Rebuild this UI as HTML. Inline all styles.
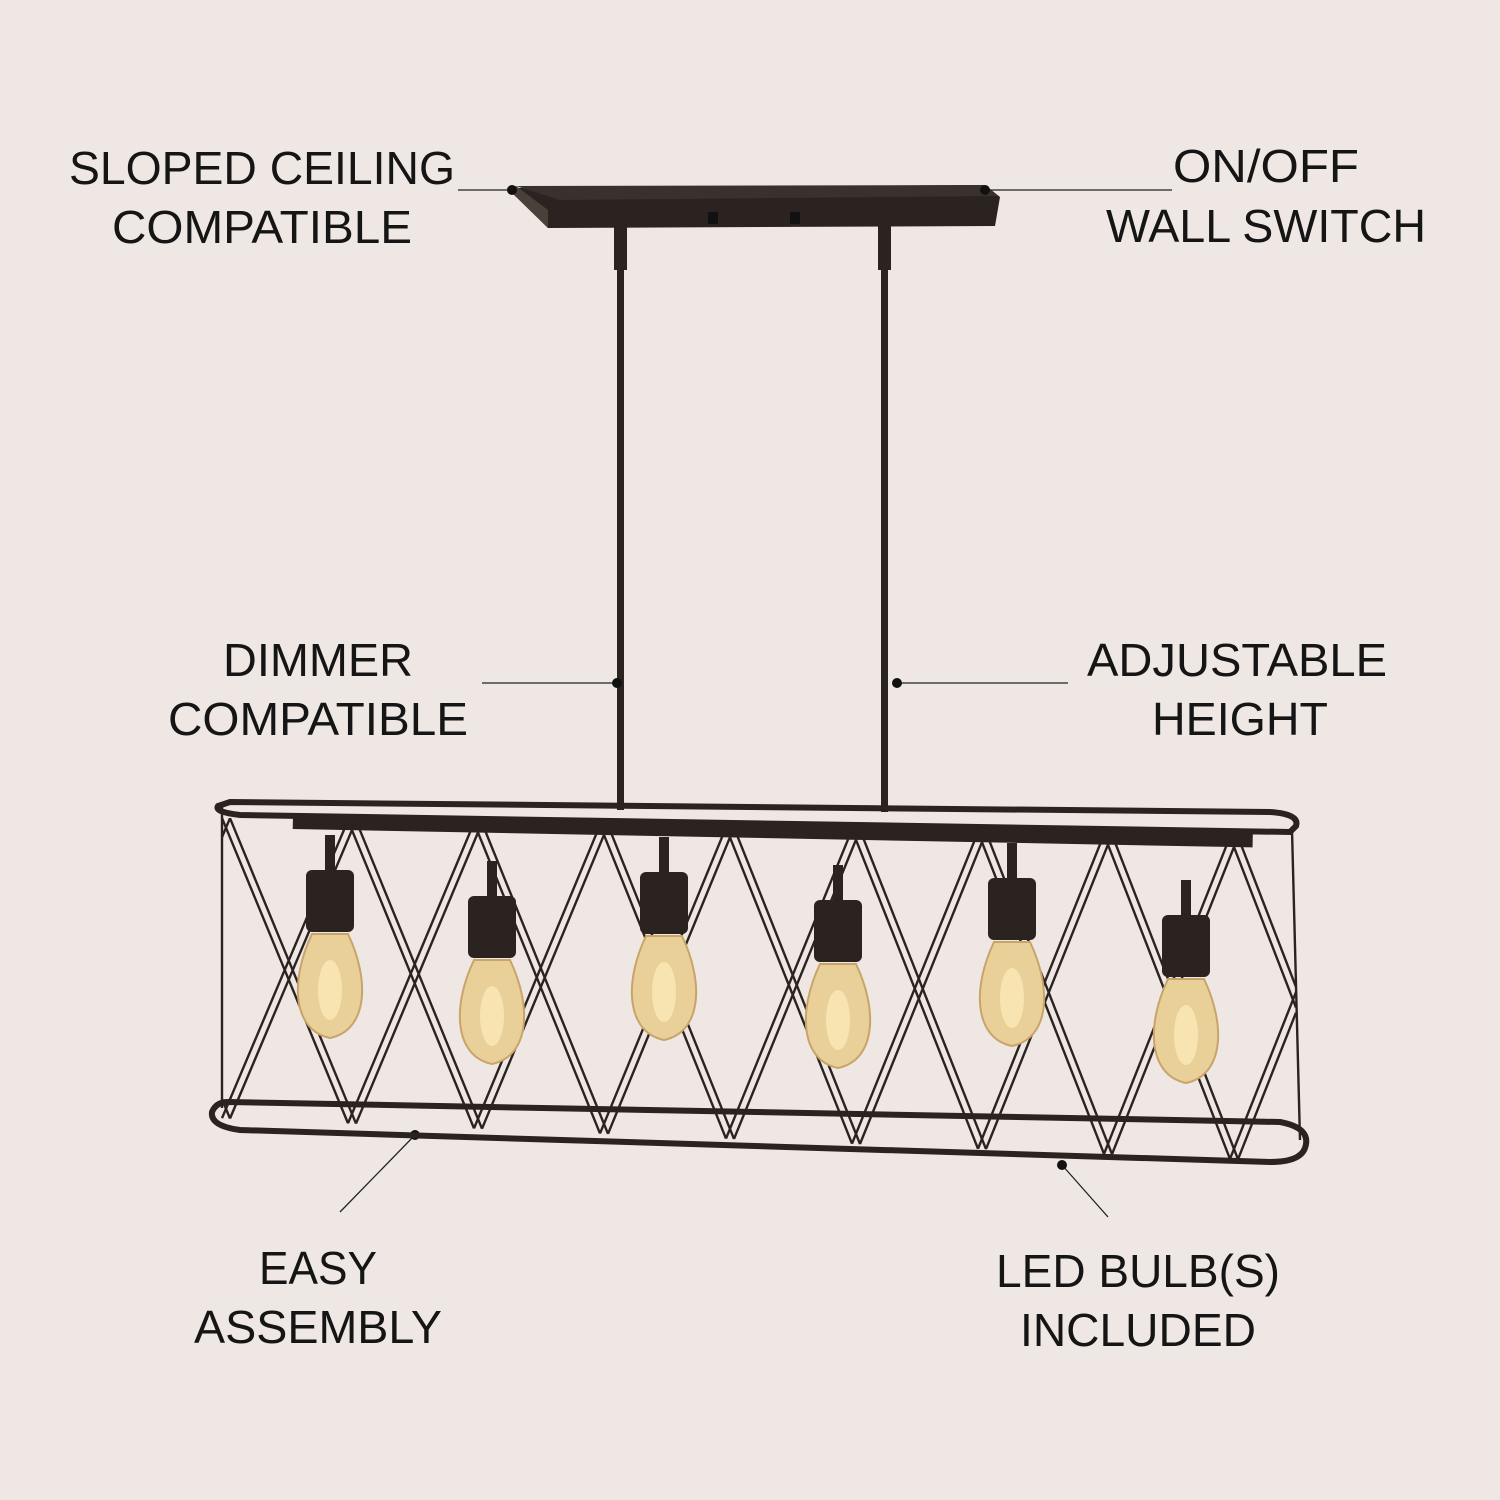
<!DOCTYPE html>
<html><head><meta charset="utf-8"><style>
html,body{margin:0;padding:0;background:#efe7e3}
svg{display:block}
text{font-family:"Liberation Sans",sans-serif;font-size:46px;fill:#151515;text-anchor:middle}
</style></head><body>
<svg id="s" width="1500" height="1500" viewBox="0 0 1500 1500" xmlns="http://www.w3.org/2000/svg">
<rect width="1500" height="1500" fill="#efe7e3"/>
<g lengthAdjust="spacingAndGlyphs">
<text x="262" y="184" textLength="386" lengthAdjust="spacingAndGlyphs">SLOPED CEILING</text>
<text x="262" y="243" textLength="300" lengthAdjust="spacingAndGlyphs">COMPATIBLE</text>
<text x="1266" y="182" textLength="186" lengthAdjust="spacingAndGlyphs">ON/OFF</text>
<text x="1266" y="242" textLength="320" lengthAdjust="spacingAndGlyphs">WALL SWITCH</text>
<text x="318" y="676" textLength="190" lengthAdjust="spacingAndGlyphs">DIMMER</text>
<text x="318" y="735" textLength="300" lengthAdjust="spacingAndGlyphs">COMPATIBLE</text>
<text x="1237" y="676" textLength="300" lengthAdjust="spacingAndGlyphs">ADJUSTABLE</text>
<text x="1240" y="735" textLength="176" lengthAdjust="spacingAndGlyphs">HEIGHT</text>
<text x="318" y="1284" textLength="118" lengthAdjust="spacingAndGlyphs">EASY</text>
<text x="318" y="1343" textLength="248" lengthAdjust="spacingAndGlyphs">ASSEMBLY</text>
<text x="1138" y="1287" textLength="284" lengthAdjust="spacingAndGlyphs">LED BULB(S)</text>
<text x="1138" y="1346" textLength="236" lengthAdjust="spacingAndGlyphs">INCLUDED</text>
</g>
<g stroke="#222" stroke-width="1.3" fill="none">
<line x1="458" y1="190" x2="512" y2="190"/>
<line x1="985" y1="190" x2="1172" y2="190"/>
<line x1="482" y1="683" x2="617" y2="683"/>
<line x1="897" y1="683" x2="1068" y2="683"/>
<line x1="415" y1="1135" x2="340" y2="1212"/>
<line x1="1062" y1="1165" x2="1108" y2="1217"/>
</g>
<polygon points="507,188 985,185 1000,197 995,226 548,228" fill="#2a2320"/>
<polygon points="507,188 548,228 548,210 516,186" fill="#4a403a"/>
<polygon points="516,186 985,185 998,196 560,200" fill="#3a312c"/>
<rect x="708" y="212" width="10" height="12" fill="#111"/>
<rect x="790" y="212" width="10" height="12" fill="#111"/>
<rect x="617" y="210" width="7" height="600" fill="#2a2320"/>
<rect x="614" y="225" width="13" height="45" fill="#2a2320"/>
<rect x="881" y="210" width="7" height="602" fill="#2a2320"/>
<rect x="878" y="225" width="13" height="45" fill="#2a2320"/>
<g fill="#111"><circle cx="512" cy="190" r="5"/><circle cx="985" cy="190" r="5"/><circle cx="617" cy="683" r="5"/><circle cx="897" cy="683" r="5"/><circle cx="415" cy="1135" r="5"/><circle cx="1062" cy="1165" r="5"/></g>
<g fill="none" stroke="#2a2320" stroke-width="6">
<path d="M230,802 L1270,812 Q1300,814 1296,826 L1290,832 L240,815 Q214,812 218,806 Z"/>
<path d="M228,1102 L1280,1122 Q1312,1128 1305,1148 Q1300,1162 1270,1162 L240,1130 Q210,1126 212,1112 Q216,1102 228,1102 Z"/>
</g>
<rect x="293" y="815" width="960" height="14" fill="#2a2320" transform="rotate(1.1 293 815)"/>
<g id="lat" stroke="#2a2320" stroke-width="2.4" fill="none"></g>
<g id="bulbs"></g>
</svg>
<script>
var ns="http://www.w3.org/2000/svg",lat=document.getElementById('lat'),b=document.getElementById('bulbs');
function yt(x){return 818+(x-218)*0.0185}
function yb(x){return 1118+(x-218)*0.0405}
function L(x1,y1,x2,y2){var l=document.createElementNS(ns,'line');l.setAttribute('x1',x1);l.setAttribute('y1',y1);l.setAttribute('x2',x2);l.setAttribute('y2',y2);lat.appendChild(l);}
L(222,806,222,1108);L(1292,830,1300,1140);
var S=126;
function seg(x1,top,x2){ // from x1 at top/bottom to x2 at opposite, clipped
  var a=x1,b2=x2;
  if(a<222){var t=(222-a)/(b2-a);a=222;}
  if(b2>1296){b2=1296;}
  if(a<222||b2<=a)return;
  var f1=(a-x1)/(x2-x1),f2=(b2-x1)/(x2-x1);
  var y1a=top?yt(a):yb(a),y2b=top?yb(b2):yt(b2);
  // interpolate vertical properly
  var ya=top?yt(a)+(yb(a)-yt(a))*f1:yb(a)-(yb(a)-yt(a))*f1;
  var yb2=top?yt(b2)+(yb(b2)-yt(b2))*f2:yb(b2)-(yb(b2)-yt(b2))*f2;
  L(a,ya,b2,yb2);
}
for(var p=222-S;p<1300;p+=S){for(var o=0;o<2;o++){var x=p+o*8;seg(x,true,x+S);seg(x,false,x+S);}}
var bx=[330,492,664,838,1012,1186],sy=[870,896,872,900,878,915];
var h='';
for(var i=0;i<6;i++){var x=bx[i],y=sy[i];
h+='<rect x="'+(x-5)+'" y="'+(y-35)+'" width="10" height="40" fill="#2a2320"/>';
h+='<rect x="'+(x-24)+'" y="'+y+'" width="48" height="62" rx="6" fill="#2a2320"/>';
h+='<path d="M'+(x-18)+','+(y+64)+' C'+(x-40)+','+(y+110)+' '+(x-38)+','+(y+160)+' '+x+','+(y+168)+' C'+(x+38)+','+(y+160)+' '+(x+40)+','+(y+110)+' '+(x+18)+','+(y+64)+' Z" fill="#e9cf98" stroke="#c9a46a" stroke-width="2"/>';
h+='<ellipse cx="'+x+'" cy="'+(y+120)+'" rx="12" ry="30" fill="#f7e4b0"/>';}
b.innerHTML=h;
</script>
</body></html>
